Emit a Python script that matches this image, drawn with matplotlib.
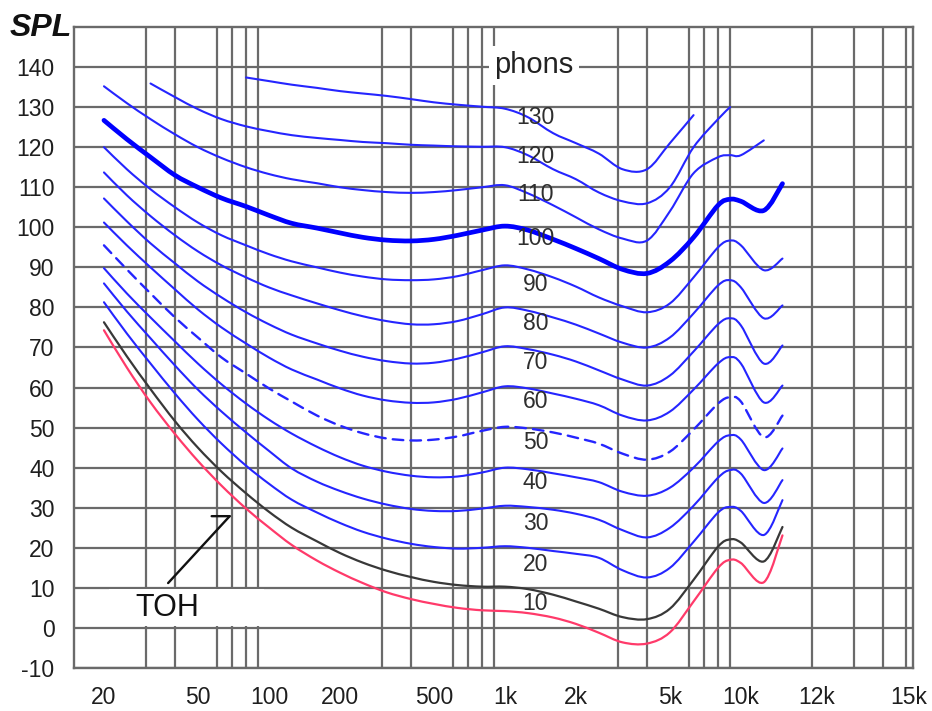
import numpy as np
import matplotlib
matplotlib.use("Agg")
import matplotlib.pyplot as plt
from matplotlib.path import Path
from matplotlib.patches import PathPatch, Rectangle
from matplotlib.ticker import FixedLocator, NullFormatter

plt.rcParams['font.family'] = ['Liberation Sans', 'DejaVu Sans']

# ---------------- data ----------------
freq_hz = [20, 25, 31.5, 40, 50, 63, 80, 100, 125, 160, 200, 250, 315, 400, 500,
           630, 800, 1000, 1250, 1600, 2000, 2500, 3150, 4000, 5000, 6300, 8000,
           9000, 10000, 12500, 15000]

toh_red = [74.3, 65.0, 56.3, 48.4, 41.7, 35.5, 29.8, 25.1, 20.7, 16.8, 13.8, 11.2, 8.9, 7.2, 6.0,
           5.0, 4.4, 4.2, 3.7, 2.6, 1.0, -1.2, -3.6, -3.9, -1.1, 6.6, 15.0, 17.0, 16.2, 11.4, 23.1]
phon10_black = [76.3, 67.8, 59.6, 51.6, 45.0, 39.0, 33.6, 29.0, 25.0, 21.6, 18.7, 16.3, 14.3, 12.7, 11.5,
                10.7, 10.3, 10.3, 9.7, 8.3, 6.6, 4.8, 2.7, 2.2, 4.8, 12.0, 20.3, 22.1, 21.3, 16.6, 25.2]
phon20 = [81.3, 73.5, 66.0, 58.5, 52.0, 46.0, 40.5, 36.0, 32.0, 28.8, 26.2, 24.0, 22.3, 21.0, 20.2,
          19.8, 20.0, 20.4, 20.0, 19.2, 18.5, 17.5, 14.4, 12.6, 15.0, 21.5, 28.8, 30.2, 29.2, 23.2, 31.9]
phon30 = [86.0, 79.0, 72.3, 65.5, 59.5, 54.0, 48.8, 44.2, 39.8, 36.5, 34.2, 32.3, 30.8, 29.7, 29.2,
          29.2, 29.8, 30.5, 30.2, 29.5, 28.5, 27.0, 24.4, 22.6, 25.0, 30.5, 37.5, 39.4, 38.5, 31.2, 36.9]
phon40 = [89.8, 83.5, 77.5, 71.5, 66.0, 60.8, 56.0, 52.0, 48.5, 45.2, 42.6, 40.5, 39.0, 38.0, 37.6,
          37.8, 38.8, 40.0, 39.6, 38.6, 37.6, 36.4, 34.0, 33.0, 35.0, 40.0, 46.5, 48.1, 47.0, 39.4, 44.8]
phon50 = [95.5, 89.5, 83.5, 77.5, 72.5, 67.5, 63.5, 59.8, 56.5, 53.0, 50.5, 48.6, 47.3, 46.8, 47.0,
          47.8, 49.2, 50.2, 49.8, 48.8, 47.5, 46.0, 43.5, 42.0, 44.0, 49.5, 56.0, 57.6, 56.5, 47.6, 53.0]
phon60 = [101.2, 95.5, 90.0, 84.5, 79.5, 75.0, 71.0, 67.5, 64.5, 62.0, 59.8, 58.0, 56.8, 56.2, 56.3,
          57.2, 58.8, 60.3, 59.8, 58.5, 57.2, 55.6, 53.0, 51.8, 54.0, 59.5, 66.0, 67.6, 66.0, 56.3, 60.5]
phon70 = [107.2, 101.5, 96.0, 91.0, 86.5, 82.5, 78.8, 75.8, 73.2, 71.0, 69.2, 67.7, 66.6, 66.0, 66.2,
          67.2, 68.8, 70.3, 69.6, 68.2, 66.5, 64.3, 62.0, 60.5, 63.0, 69.0, 75.8, 77.3, 75.5, 66.0, 70.5]
phon80 = [113.7, 108.0, 102.8, 98.0, 94.0, 90.5, 87.5, 85.0, 83.0, 81.0, 79.3, 77.8, 76.6, 75.8, 75.8,
          76.6, 78.3, 80.0, 79.2, 77.5, 75.7, 73.5, 71.2, 70.0, 72.5, 78.5, 85.5, 86.8, 85.0, 77.3, 80.5]
phon90 = [120.0, 114.5, 109.5, 105.0, 101.2, 98.0, 95.5, 93.3, 91.5, 90.0, 88.7, 87.7, 87.0, 86.8, 87.0,
          87.8, 89.3, 90.5, 89.5, 87.5, 85.2, 82.5, 80.3, 78.8, 81.0, 87.5, 95.0, 96.7, 95.5, 89.3, 92.2]
phon100 = [126.7, 122.0, 117.5, 113.0, 110.0, 107.3, 105.2, 103.0, 101.0, 99.8, 98.6, 97.5, 96.8, 96.6, 97.0,
           98.0, 99.3, 100.3, 99.3, 97.0, 94.7, 92.2, 89.5, 88.5, 91.5, 97.5, 105.5, 107.0, 106.5, 104.2, 110.9]
phon110 = [135.2, 131.0, 127.0, 123.2, 120.0, 117.3, 115.0, 113.3, 112.0, 111.0, 110.0, 109.3, 108.8, 108.6, 108.8,
           109.3, 110.0, 110.5, 108.5, 105.5, 102.5, 99.5, 97.2, 96.7, 104.0, 113.5, 117.5, 118.0, 118.0, 121.7, None]
phon120 = [None, None, 135.9, 132.5, 129.5, 127.0, 125.2, 124.0, 123.0, 122.3, 121.8, 121.3, 121.0, 120.6, 120.4,
           120.2, 120.1, 120.0, 118.0, 114.5, 112.0, 108.7, 106.5, 106.0, 110.0, 120.0, 127.0, 130.0, None, None, None]
phon130 = [None, None, None, None, None, None, 137.4, 136.5, 135.6, 134.8, 134.0, 133.4, 132.8, 132.0, 131.2,
           130.6, 130.1, 129.6, 127.5, 123.5, 121.0, 118.4, 114.5, 114.5, 121.0, 128.0, None, None, None, None, None]

contour_labels = ['130', '120', '110', '100', '90', '80', '70', '60', '50', '40', '30', '20', '10']
contour_label_db = [127.4, 117.7, 108.2, 97.2, 85.8, 76.0, 66.2, 56.6, 46.3, 36.3, 26.0, 15.9, 6.0]

x_tick_freqs = [20, 50, 100, 200, 500, 1000, 2000, 5000, 10000, 21000, 51500]
x_tick_labels = ['20', '50', '100', '200', '500', '1k', '2k', '5k', '10k', '12k', '15k']
x_grid_freqs = [20, 30, 40, 60, 70, 80, 90, 100, 200, 300, 400, 500, 600, 700, 800, 900,
                1000, 2000, 3000, 4000, 5000, 6000, 7000, 8000, 9000, 10000,
                20000, 30000, 40000, 50000]
y_ticks = list(range(-10, 141, 10))

# ---------------- figure ----------------
W, H = 932, 711
fig = plt.figure(figsize=(W / 100, H / 100), dpi=100)
ax = fig.add_axes([74 / W, 1 - 668 / H, (913 - 74) / W, (668 - 27) / H])
ax.set_xscale('log')
ax.set_xlim(14.93, 53600)
ax.set_ylim(-10, 150)

GRID = '#6a6a6a'
ax.set_axisbelow(True)
ax.xaxis.set_major_locator(FixedLocator(x_tick_freqs))
ax.set_xticklabels(x_tick_labels)
ax.xaxis.set_minor_locator(FixedLocator(x_grid_freqs))
ax.xaxis.set_minor_formatter(NullFormatter())
ax.set_yticks(y_ticks)
ax.set_yticklabels([str(v) for v in y_ticks])
ax.grid(False, which='major', axis='x')
ax.grid(True, which='minor', axis='x', color=GRID, lw=1.6)
ax.grid(True, which='major', axis='y', color=GRID, lw=1.6)
ax.tick_params(which='both', length=0)
ax.tick_params(axis='x', pad=13, labelsize=16.5, labelcolor='#1e1e1e')
ax.tick_params(axis='y', pad=14, labelsize=16.5, labelcolor='#1e1e1e')
for s in ax.spines.values():
    s.set_color(GRID)
    s.set_linewidth(1.7)


def smooth_path(xs, ys):
    pts = np.array([(np.log10(x), y) for x, y in zip(xs, ys) if y is not None], float)
    n = len(pts)
    verts = [pts[0]]
    codes = [Path.MOVETO]
    for i in range(n - 1):
        p0 = pts[i - 1] if i > 0 else pts[i]
        p1 = pts[i]
        p2 = pts[i + 1]
        p3 = pts[i + 2] if i + 2 < n else pts[i + 1]
        verts += [p1 + (p2 - p0) / 6.0, p2 - (p3 - p1) / 6.0, p2]
        codes += [Path.CURVE4] * 3
    verts = np.array(verts)
    verts[:, 0] = 10 ** verts[:, 0]
    return Path(verts, codes)


BLUE = '#2525ff'
series = [
    (toh_red, '#ff3a6a', 1.6, '-'),
    (phon10_black, '#383838', 1.6, '-'),
    (phon20, BLUE, 1.5, '-'),
    (phon30, BLUE, 1.5, '-'),
    (phon40, BLUE, 1.5, '-'),
    (phon50, BLUE, 1.7, (0, (4.5, 3))),
    (phon60, BLUE, 1.5, '-'),
    (phon70, BLUE, 1.5, '-'),
    (phon80, BLUE, 1.5, '-'),
    (phon90, BLUE, 1.5, '-'),
    (phon100, '#0000ff', 3.4, '-'),
    (phon110, BLUE, 1.5, '-'),
    (phon120, BLUE, 1.5, '-'),
    (phon130, BLUE, 1.5, '-'),
]
for vals, col, lw, ls in series:
    patch = PathPatch(smooth_path(freq_hz, vals), fill=False, edgecolor=col, lw=lw,
                      linestyle=ls, capstyle='round', joinstyle='round',
                      transform=ax.transData, zorder=3)
    ax.add_patch(patch)

# contour level labels
for lab, db in zip(contour_labels, contour_label_db):
    ax.text(1347, db, lab, ha='center', va='center', fontsize=16.5,
            color='#2e2e2e', zorder=4)

ax.text(1328, 140.4, 'phons', ha='center', va='center', fontsize=21, color='#222222',
        zorder=4, bbox=dict(boxstyle='square,pad=0.2', fc='white', ec='none'))

# TOH label with white box and half-barb arrow
ax.add_patch(Rectangle((21, 0.4), 95 - 21, 9.2, facecolor='white', edgecolor='none', zorder=1.5))
ax.text(37, 5.0, 'TOH', ha='center', va='center', fontsize=22, color='#111111', zorder=4)
ax.annotate('', xy=(68.2, 27.9), xytext=(37.4, 11.2),
            arrowprops=dict(arrowstyle='-', color='#111111', lw=1.7, shrinkA=0, shrinkB=0), zorder=4)
ax.annotate('', xy=(68.2, 27.9), xytext=(57.2, 27.9),
            arrowprops=dict(arrowstyle='-', color='#111111', lw=1.7, shrinkA=0, shrinkB=0), zorder=4)

fig.text(41 / W, 1 - 28 / H, 'SPL', fontsize=23, fontweight='bold', fontstyle='italic',
         ha='center', va='center', color='#111111')

fig.savefig('out.png', dpi=100, facecolor='white')
